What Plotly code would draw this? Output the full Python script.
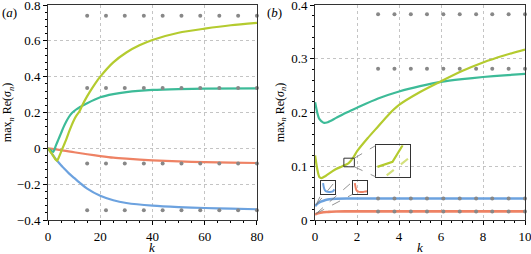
import plotly.graph_objects as go

# ---------------- data: panel (a) ----------------
k_yel_a = [0, 1, 2, 3, 3.5, 4, 5, 6, 7, 8, 9, 10, 11, 12, 13, 14, 16, 18, 20, 25, 30, 35, 40, 50, 60, 70, 80]
v_yel_a = [0, -0.021, -0.042, -0.064, -0.07, -0.055, -0.02, 0.015, 0.05, 0.09, 0.127, 0.16, 0.185, 0.205,
           0.236, 0.265, 0.315, 0.36, 0.40, 0.48, 0.535, 0.575, 0.605, 0.645, 0.668, 0.687, 0.70]
k_teal_a = [0, 1, 2, 3, 4, 5, 6, 7, 8, 9, 10, 11, 12, 13, 15, 20, 25, 30, 40, 50, 60, 80]
v_teal_a = [0, -0.01, -0.02, 0.015, 0.05, 0.085, 0.12, 0.15, 0.175, 0.195, 0.208, 0.219, 0.228, 0.236,
            0.252, 0.285, 0.303, 0.314, 0.326, 0.331, 0.333, 0.335]
k_or_a = [0, 5, 10, 15, 20, 25, 30, 40, 50, 60, 70, 80]
v_or_a = [0, -0.01, -0.022, -0.033, -0.043, -0.052, -0.058, -0.067, -0.073, -0.077, -0.08, -0.082]
k_blue_a = [0, 1, 2, 3, 4, 5, 6, 8, 10, 12, 15, 20, 25, 30, 40, 50, 60, 70, 80]
v_blue_a = [0, -0.02, -0.04, -0.06, -0.078, -0.095, -0.11, -0.14, -0.165, -0.19, -0.225, -0.265, -0.29,
            -0.305, -0.32, -0.328, -0.333, -0.337, -0.34]
k_dots_a = [15, 22.2, 29.4, 36.7, 43.9, 51.1, 58.3, 65.6, 72.8, 80]
dot_levels_a = [0.74, 0.337, -0.085, -0.345]

# ---------------- data: panel (b) ----------------
k_yel_b = [0, 0.1, 0.2, 0.3, 0.5, 0.8, 1.0, 1.3, 1.6, 1.8, 2, 2.5, 3, 3.5, 4, 5, 6, 7, 8, 9, 10]
v_yel_b = [0.12, 0.095, 0.08, 0.078, 0.082, 0.09, 0.095, 0.1, 0.106, 0.115, 0.128, 0.152, 0.174, 0.196,
           0.214, 0.238, 0.258, 0.277, 0.293, 0.306, 0.317]
k_teal_b = [0, 0.1, 0.2, 0.4, 0.6, 1.0, 1.5, 2, 3, 4, 5, 6, 7, 8, 9, 10]
v_teal_b = [0.219, 0.2, 0.188, 0.181, 0.182, 0.19, 0.2, 0.209, 0.226, 0.239, 0.249, 0.257, 0.262, 0.266,
            0.269, 0.272]
k_blue_b = [0, 0.1, 0.2, 0.4, 0.6, 0.8, 1.0, 1.5, 3, 10]
v_blue_b = [0.026, 0.03, 0.033, 0.036, 0.038, 0.039, 0.0395, 0.04, 0.04, 0.04]
k_or_b = [0, 0.1, 0.2, 0.4, 0.6, 1.0, 1.5, 3, 10]
v_or_b = [0.01, 0.012, 0.013, 0.0145, 0.015, 0.0158, 0.016, 0.016, 0.016]
k_dots_b = [3, 3.78, 4.56, 5.33, 6.11, 6.89, 7.67, 8.44, 9.22, 10]
dot_levels_b = [0.383, 0.2815, 0.04, 0.016]

# ---------------- inset data (normalised) ----------------
u_x_blue = [0.14, 0.2, 0.28, 0.4, 0.56, 0.72, 0.84, 0.95]
u_y_blue = [0.875, 0.5, 0.3, 0.2, 0.175, 0.19, 0.225, 0.375]
u_x_or = [0.14, 0.2, 0.26, 0.38, 0.53, 0.7, 0.88, 1.0]
u_y_or = [0.875, 0.5, 0.3, 0.2, 0.175, 0.18, 0.22, 0.23]
z_x_solid = [0.04, 0.48, 0.775]
z_y_solid = [0.32, 0.48, 1.0]
z_x_dash = [0.31, 1.0]
z_y_dash = [0.05, 0.635]

# tick labels
xt_a = [0, 20, 40, 60, 80]
yt_a = [-0.4, -0.2, 0, 0.2, 0.4, 0.6, 0.8]
yt_a_txt = ["\u22120.4", "\u22120.2", "0", "0.2", "0.4", "0.6", "0.8"]
xt_b = [0, 2, 4, 6, 8, 10]
yt_b = [0, 0.1, 0.2, 0.3, 0.4]
yt_b_txt = ["0", "0.1", "0.2", "0.3", "0.4"]

YEL = "#b4cb2f"
TEAL = "#3dbb98"
ORG = "#ee8264"
BLUE = "#6ca2df"
DOT = "#888888"
FONT = "Liberation Serif, DejaVu Serif, serif"

fig = go.Figure()

def line(x, y, c, xa="x", ya="y", w=2.2, dash=None, smooth=True):
    fig.add_trace(go.Scatter(
        x=x, y=y, mode="lines", xaxis=xa, yaxis=ya, hoverinfo="skip",
        line=dict(color=c, width=w, dash=dash,
                  shape="spline" if smooth else "linear", smoothing=0.7),
        showlegend=False))

line(k_or_a, v_or_a, ORG)
line(k_blue_a, v_blue_a, BLUE)
line(k_teal_a, v_teal_a, TEAL)
line(k_yel_a, v_yel_a, YEL)

line(k_or_b, v_or_b, ORG, "x2", "y2", w=2.6)
line(k_blue_b, v_blue_b, BLUE, "x2", "y2", w=2.6)
line(k_teal_b, v_teal_b, TEAL, "x2", "y2")
line(k_yel_b, v_yel_b, YEL, "x2", "y2")

for lv in dot_levels_a:
    fig.add_trace(go.Scatter(x=k_dots_a, y=[lv] * len(k_dots_a), mode="markers",
                             marker=dict(color=DOT, size=4), xaxis="x", yaxis="y",
                             hoverinfo="skip", showlegend=False, cliponaxis=False))
for lv in dot_levels_b:
    fig.add_trace(go.Scatter(x=k_dots_b, y=[lv] * len(k_dots_b), mode="markers",
                             marker=dict(color=DOT, size=4), xaxis="x2", yaxis="y2",
                             hoverinfo="skip", showlegend=False, cliponaxis=False))

# insets
line(u_x_blue, u_y_blue, BLUE, "x3", "y3", w=2)
line(u_x_or, u_y_or, ORG, "x4", "y4", w=2)
line(z_x_solid, z_y_solid, YEL, "x5", "y5", w=2.2, smooth=False)
line(z_x_dash, z_y_dash, "#d3e07c", "x5", "y5", w=2.2, dash="dash", smooth=False)

# geometry of panel (b) for inset placement
XA0, XA1 = 0.0, 0.438
XB0, XB1 = 0.56, 1.0
def px_b(k):
    return XB0 + (XB1 - XB0) * k / 10.0
def py_b(v):
    return v / 0.4

box_blue = (0.286, 0.952, 0.048, 0.0717)
box_or = (1.795, 2.49, 0.048, 0.0717)
box_big = (2.905, 4.538, 0.080, 0.139)
small_rect = (1.37, 1.87, 0.099, 0.115)

FRAME = "#333333"
GRID = "#c4c4c4"
tickfont = dict(family=FONT, size=13, color="black")
ytitle = "max<sub><i>n</i></sub> Re(<i>σ</i><sub><i>n</i></sub>)"

def main_axis(**kw):
    d = dict(showline=True, mirror=True, linecolor=FRAME, linewidth=1,
             ticks="outside", ticklen=4, tickwidth=1, tickcolor="black",
             showgrid=True, gridcolor=GRID, griddash="dot", gridwidth=1,
             zeroline=False, tickfont=tickfont, ticklabeloverflow="allow",
             automargin=False)
    d.update(kw)
    return d

def inset_axis(**kw):
    d = dict(showline=True, mirror=True, linecolor=FRAME, linewidth=1.2,
             ticks="", showticklabels=False, showgrid=False, zeroline=False,
             range=[0, 1], fixedrange=True, automargin=False)
    d.update(kw)
    return d

layout = dict(
    width=531, height=254, autosize=False,
    margin=dict(l=48, r=6, t=5, b=34),
    paper_bgcolor="white", plot_bgcolor="rgba(0,0,0,0)",
    font=dict(family=FONT, size=13, color="black"),
    xaxis=main_axis(domain=[XA0, XA1], range=[0, 80], tickvals=xt_a, anchor="y",
                    minor=dict(ticks="outside", dtick=5, tick0=0, ticklen=2, showgrid=False)),
    yaxis=main_axis(domain=[0, 1], range=[-0.4, 0.8], tickvals=yt_a, ticktext=yt_a_txt, anchor="x",
                    minor=dict(ticks="outside", dtick=0.04, tick0=0, ticklen=2, showgrid=False),
                    title=dict(text=ytitle, standoff=4, font=dict(family=FONT, size=12))),
    xaxis2=main_axis(domain=[XB0, XB1], range=[0, 10], tickvals=xt_b, anchor="y2",
                     minor=dict(ticks="outside", dtick=0.5, tick0=0, ticklen=2, showgrid=False)),
    yaxis2=main_axis(domain=[0, 1], range=[0, 0.4], tickvals=yt_b, ticktext=yt_b_txt, anchor="x2",
                     minor=dict(ticks="outside", dtick=0.02, tick0=0, ticklen=2, showgrid=False),
                     title=dict(text=ytitle, standoff=4, font=dict(family=FONT, size=12))),
    xaxis3=inset_axis(domain=[px_b(box_blue[0]), px_b(box_blue[1])], anchor="y3"),
    yaxis3=inset_axis(domain=[py_b(box_blue[2]), py_b(box_blue[3])], anchor="x3"),
    xaxis4=inset_axis(domain=[px_b(box_or[0]), px_b(box_or[1])], anchor="y4"),
    yaxis4=inset_axis(domain=[py_b(box_or[2]), py_b(box_or[3])], anchor="x4"),
    xaxis5=inset_axis(domain=[px_b(box_big[0]), px_b(box_big[1])], anchor="y5"),
    yaxis5=inset_axis(domain=[py_b(box_big[2]), py_b(box_big[3])], anchor="x5"),
)
fig.update_layout(**layout)

dash_line = dict(color="#777777", width=0.8, dash="dash")
shapes = [
    dict(type="rect", xref="x2", yref="y2", x0=small_rect[0], x1=small_rect[1],
         y0=small_rect[2], y1=small_rect[3], line=dict(color=FRAME, width=1)),
    dict(type="line", xref="x2", yref="y2", x0=small_rect[1], y0=small_rect[3],
         x1=box_big[0], y1=box_big[3], line=dash_line),
    dict(type="line", xref="x2", yref="y2", x0=small_rect[1], y0=small_rect[2],
         x1=box_big[0], y1=box_big[2], line=dash_line),
    dict(type="line", xref="x2", yref="y2", x0=0.05, y0=0.028,
         x1=box_blue[0], y1=box_blue[2], line=dash_line),
    dict(type="line", xref="x2", yref="y2", x0=0.05, y0=0.028,
         x1=box_blue[1], y1=box_blue[3], line=dash_line),
    dict(type="line", xref="x2", yref="y2", x0=0.05, y0=0.012,
         x1=box_or[0], y1=box_or[2], line=dash_line),
    dict(type="line", xref="x2", yref="y2", x0=0.05, y0=0.012,
         x1=box_or[0], y1=box_or[3], line=dash_line),
]
fig.update_layout(shapes=shapes)

ann_font = dict(family=FONT, size=13, color="black")
fig.add_annotation(text="(<i>a</i>)", xref="paper", yref="paper", x=-0.1006, y=0.967,
                   xanchor="left", yanchor="middle", showarrow=False, font=ann_font)
fig.add_annotation(text="(<i>b</i>)", xref="paper", yref="paper", x=0.455, y=0.967,
                   xanchor="left", yanchor="middle", showarrow=False, font=ann_font)
fig.add_annotation(text="<i>k</i>", xref="paper", yref="paper", x=(XA0 + XA1) / 2, y=-0.13,
                   xanchor="center", yanchor="middle", showarrow=False, font=ann_font)
fig.add_annotation(text="<i>k</i>", xref="paper", yref="paper", x=(XB0 + XB1) / 2, y=-0.13,
                   xanchor="center", yanchor="middle", showarrow=False, font=ann_font)

fig.write_html("out.html", config={"displayModeBar": False},
               post_script="document.body.style.margin='0';document.body.style.padding='0';"
                           "document.body.style.overflow='hidden';")
